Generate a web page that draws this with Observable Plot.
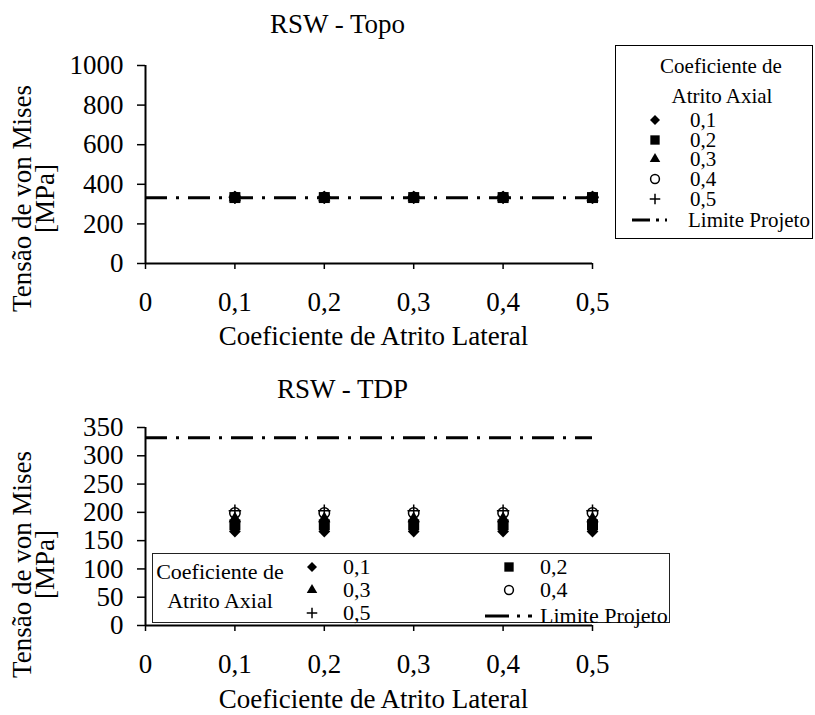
<!DOCTYPE html>
<html><head><meta charset="utf-8">
<script src="https://cdn.jsdelivr.net/npm/d3@7"></script>
<script src="https://cdn.jsdelivr.net/npm/@observablehq/plot@0.6"></script>
<style>
body{margin:0;background:#fff;}
#wrap{width:815px;height:715px;position:relative;background:#fff;}
#wrap svg{display:block;}
#wrap svg text{font-family:"Liberation Serif","DejaVu Serif","Times New Roman",serif;}
</style></head><body><div id="wrap"></div>
<script>
// ---- data ----
const xCoef = [0.1, 0.2, 0.3, 0.4, 0.5];           // Coeficiente de Atrito Lateral
const xTicks = [0, 0.1, 0.2, 0.3, 0.4, 0.5];
const axialLabels = ["0,1", "0,2", "0,3", "0,4", "0,5"]; // Coeficiente de Atrito Axial
const limiteProjeto = 332;
const yTicksTopo = [0, 200, 400, 600, 800, 1000];
const yTicksTDP = [0, 50, 100, 150, 200, 250, 300, 350];

// RSW - Topo
const topo01 = [330, 330, 330, 330, 330];
const topo02 = [333, 333, 333, 333, 333];
const topo03 = [333, 333, 333, 333, 333];
const topo04 = [334, 334, 334, 334, 334];
const topo05 = [335, 335, 335, 335, 335];
// RSW - TDP
const tdp01 = [166, 166, 166, 166, 166];
const tdp02 = [178, 178, 178, 178, 178];
const tdp03 = [189, 189, 189, 189, 189];
const tdp04 = [199, 199, 199, 199, 199];
const tdp05 = [203, 203, 203, 203, 203];

const topoSeries = [topo01, topo02, topo03, topo04, topo05];
const tdpSeries = [tdp01, tdp02, tdp03, tdp04, tdp05];

// ---- styles ----
const symStyles = [
  {symbol: "diamond2", r: 5.3, fill: "black", stroke: "none", strokeWidth: 0},
  {symbol: "square", r: 6.2, fill: "black", stroke: "none", strokeWidth: 0},
  {symbol: "triangle", r: 4.6, fill: "black", stroke: "none", strokeWidth: 0},
  {symbol: "circle", r: 5.2, fill: "none", stroke: "black", strokeWidth: 1.5},
  {symbol: "plus", r: 4.1, fill: "none", stroke: "black", strokeWidth: 1.5}
];
const legendScale = 0.85;
const d3Sym = {diamond2: d3.symbolDiamond2, square: d3.symbolSquare, triangle: d3.symbolTriangle, circle: d3.symbolCircle, plus: d3.symbolPlus};
const dash = "22,9,3,9";
const fontFam = "Liberation Serif, DejaVu Serif, Times New Roman, serif";
const fmtX = d => d === 0 ? "0" : d3.format(".1f")(d).replace(".", ",");

function dots(seriesList) {
  return seriesList.map((vals, i) => Plot.dot(xCoef, {
    x: xCoef, y: vals,
    symbol: symStyles[i].symbol, r: symStyles[i].r,
    fill: symStyles[i].fill, stroke: symStyles[i].stroke, strokeWidth: symStyles[i].strokeWidth
  }));
}

function chart({height, marginTop, marginBottom, yDomain, yTicks, series, title, titleDx, titleDy, yTitleDy, xTitleDy}) {
  return Plot.plot({
    width: 815, height,
    marginLeft: 145, marginRight: 223, marginTop, marginBottom,
    style: {fontFamily: fontFam, fontSize: "27px", background: "white", color: "black", overflow: "visible"},
    x: {domain: [0, 0.5]},
    y: {domain: yDomain},
    marks: [
      Plot.axisY({ticks: yTicks, tickSize: 8, tickPadding: 14, tickFormat: d => String(d), label: null, strokeWidth: 1.5}),
      Plot.axisX({ticks: xTicks, tickSize: 6, tickPadding: 22, tickFormat: fmtX, label: null, strokeWidth: 1.5}),
      Plot.ruleX([0], {strokeWidth: 2}),
      Plot.ruleY([0], {strokeWidth: 2}),
      Plot.ruleY([limiteProjeto], {strokeWidth: 3, strokeDasharray: dash}),
      ...dots(series),
      Plot.text([title], {text: d => d, frameAnchor: "top", textAnchor: "middle", lineAnchor: "middle", dx: titleDx, dy: titleDy, fontSize: 27}),
      Plot.text(["Tensão de von Mises\n[MPa]"], {text: d => d, frameAnchor: "left", textAnchor: "middle", lineAnchor: "middle", rotate: -90, lineHeight: 0.85, dx: -110.5, dy: yTitleDy, fontSize: 27}),
      Plot.text(["Coeficiente de Atrito Lateral"], {text: d => d, frameAnchor: "bottom", textAnchor: "middle", lineAnchor: "middle", dx: 4.5, dy: xTitleDy, fontSize: 27})
    ]
  });
}

function symPath(i) {
  const r = symStyles[i].r * legendScale;
  return d3.symbol(d3Sym[symStyles[i].symbol], Math.PI * r * r)();
}
function addMarker(g, i, x, y) {
  g.append("path").attr("d", symPath(i)).attr("transform", `translate(${x},${y})`)
    .attr("fill", symStyles[i].fill).attr("stroke", symStyles[i].stroke).attr("stroke-width", symStyles[i].strokeWidth);
}
function addText(g, s, x, y, anchor) {
  g.append("text").attr("x", x).attr("y", y).attr("dy", "0.32em").attr("text-anchor", anchor || "start").text(s);
}

const wrap = document.getElementById("wrap");

// Top chart
const topChart = chart({height: 350, marginTop: 65, marginBottom: 87, yDomain: [0, 1000], yTicks: yTicksTopo,
  series: topoSeries, title: "RSW - Topo", titleDx: -31.5, titleDy: -41.6, yTitleDy: 34, xTitleDy: 73});
wrap.appendChild(topChart);
{
  const g = d3.select(topChart).append("g").attr("font-family", fontFam).attr("font-size", 21).attr("fill", "black");
  g.append("rect").attr("x", 615.5).attr("y", 45.5).attr("width", 197).attr("height", 193).attr("fill", "white").attr("stroke", "black").attr("stroke-width", 1);
  addText(g, "Coeficiente de", 721, 66, "middle");
  addText(g, "Atrito Axial", 722, 96, "middle");
  const rows = [120, 140, 159, 179, 199];
  axialLabels.forEach((lab, i) => { addMarker(g, i, 655, rows[i]); addText(g, lab, 690, rows[i]); });
  g.append("line").attr("x1", 632).attr("x2", 667).attr("y1", 220).attr("y2", 220).attr("stroke", "black").attr("stroke-width", 3).attr("stroke-dasharray", "18,6,3,6");
  addText(g, "Limite Projeto", 688, 220);
}

// Bottom chart
const botChart = chart({height: 365, marginTop: 77, marginBottom: 90, yDomain: [0, 350], yTicks: yTicksTDP,
  series: tdpSeries, title: "RSW - TDP", titleDx: -26.5, titleDy: -38.6, yTitleDy: 38, xTitleDy: 74});
wrap.appendChild(botChart);
{
  const g = d3.select(botChart).append("g").attr("font-family", fontFam).attr("font-size", 22).attr("fill", "black");
  g.append("rect").attr("x", 152.5).attr("y", 203.5).attr("width", 517).attr("height", 69).attr("fill", "white").attr("stroke", "#222").attr("stroke-width", 1);
  addText(g, "Coeficiente de", 220, 222, "middle");
  addText(g, "Atrito Axial", 220, 251, "middle");
  const pos = [[312, 217], [509, 217], [312, 240], [509, 240], [312, 263]];
  axialLabels.forEach((lab, i) => { addMarker(g, i, pos[i][0], pos[i][1]); addText(g, lab, pos[i][0] + 31, pos[i][1]); });
  g.append("line").attr("x1", 485).attr("x2", 532).attr("y1", 266).attr("y2", 266).attr("stroke", "black").attr("stroke-width", 3).attr("stroke-dasharray", "24,8,3,8");
  addText(g, "Limite Projeto", 540, 266);
}
</script></body></html>
